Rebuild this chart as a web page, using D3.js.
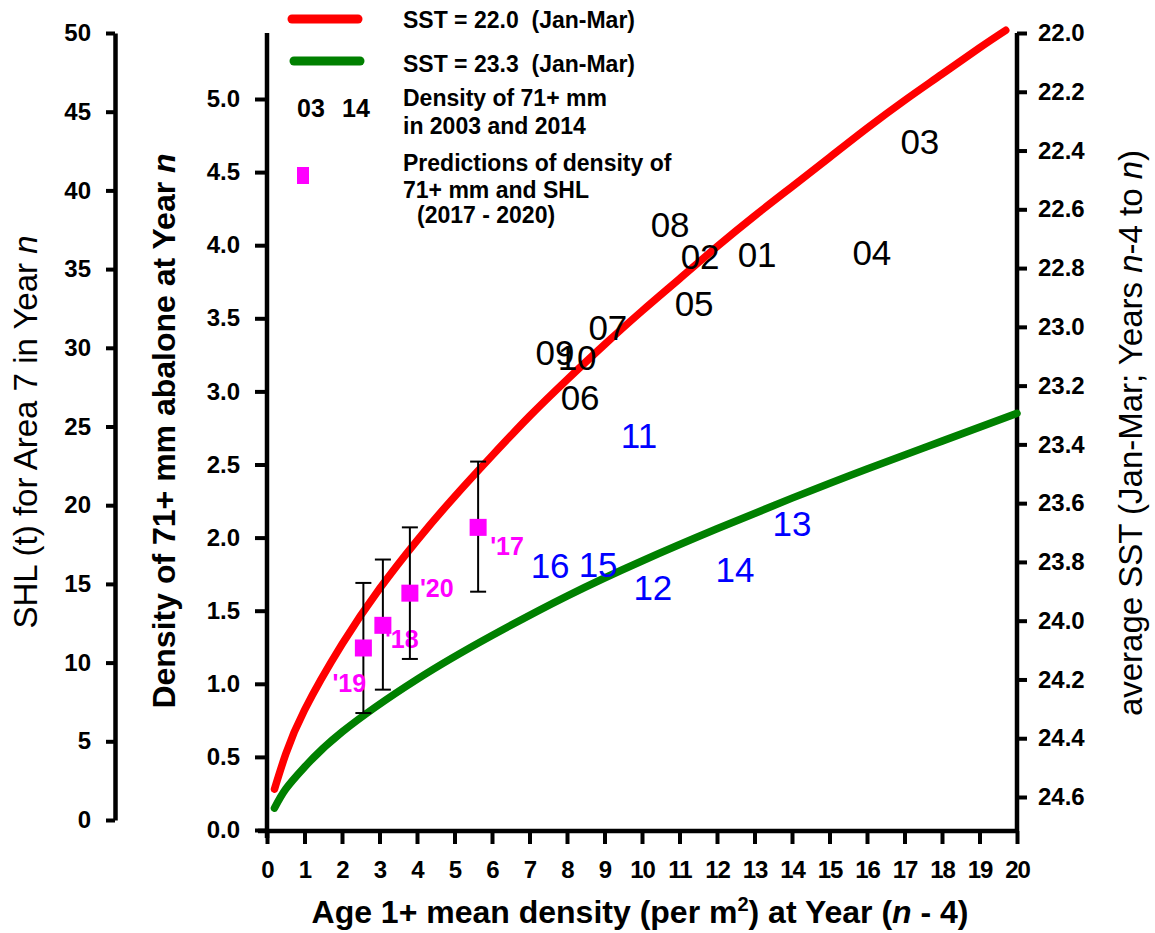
<!DOCTYPE html>
<html>
<head>
<meta charset="utf-8">
<script src="https://cdn.jsdelivr.net/npm/d3@7"></script>
<style>
  body { margin: 0; background: #fff; }
  svg text { font-family: "Liberation Sans", Arial, sans-serif; white-space: pre; }
</style>
</head>
<body>
<svg id="chart" width="1155" height="933"></svg>
<script>
// fitted curves (x = age 1+ density, y = density of 71+ mm)
const curveX = [0.2, 0.5, 1, 2, 3, 4, 5, 6, 7, 8, 9, 10, 11, 12, 13, 14, 15, 16, 17, 18, 19, 19.7];
const redY = [0.28, 0.52, 0.82, 1.27, 1.65, 1.98, 2.28, 2.56, 2.83, 3.08, 3.32, 3.55, 3.77, 3.99, 4.20, 4.40, 4.60, 4.80, 4.99, 5.17, 5.35, 5.47];
const greenX = [0.2, 0.5, 1, 2, 4, 6, 8, 10, 12, 14, 16, 18, 20];
const greenY = [0.15, 0.28, 0.43, 0.67, 1.03, 1.33, 1.60, 1.84, 2.06, 2.27, 2.47, 2.66, 2.85];

// observed years (label placed at its value)
const yearLabels = ["01", "02", "03", "04", "05", "06", "07", "08", "09", "10", "11", "12", "13", "14", "15", "16"];
const yearX = [13.07, 11.55, 17.41, 16.13, 11.39, 8.35, 9.09, 10.75, 7.68, 8.27, 9.92, 10.29, 14.0, 12.48, 8.83, 7.55];
const yearY = [3.94, 3.92, 4.71, 3.95, 3.60, 2.96, 3.44, 4.14, 3.27, 3.23, 2.70, 1.66, 2.10, 1.78, 1.82, 1.81];

// predictions 2017-2020 with error bars
const predLabels = ["'17", "'18", "'19", "'20"];
const predX = [5.63, 3.09, 2.57, 3.81];
const predY = [2.07, 1.40, 1.245, 1.62];
const predLo = [1.63, 0.96, 0.80, 1.17];
const predHi = [2.52, 1.85, 1.69, 2.07];

// tick values
const xTicks = d3.range(0, 21, 1);
const densTicks = [0, 0.5, 1, 1.5, 2, 2.5, 3, 3.5, 4, 4.5, 5];
const shlTicks = [0, 5, 10, 15, 20, 25, 30, 35, 40, 45, 50];
const sstTicks = [22.0, 22.2, 22.4, 22.6, 22.8, 23.0, 23.2, 23.4, 23.6, 23.8, 24.0, 24.2, 24.4, 24.6];

const svg = d3.select("#chart");

// scales
const x = d3.scaleLinear().domain([0, 20]).range([267, 1017]);
const y = d3.scaleLinear().domain([0, 5]).range([830, 99]);
const yShl = d3.scaleLinear().domain([0, 50]).range([820, 33]);
const ySst = d3.scaleLinear().domain([22.0, 24.6]).range([33, 797]);

function styleAxis(g, fs) {
  g.select(".domain").attr("stroke", "#000").attr("stroke-width", 4.5);
  g.selectAll(".tick line").attr("stroke", "#000").attr("stroke-width", 4);
  g.selectAll(".tick text").attr("fill", "#000").attr("font-size", fs).attr("font-weight", "bold")
    .attr("font-family", "Liberation Sans, Arial, sans-serif");
}

// left SHL axis
svg.append("g")
  .attr("transform", "translate(115,0)")
  .call(d3.axisLeft(yShl).tickValues(shlTicks).tickSize(9).tickPadding(15).tickSizeOuter(0))
  .call(g => styleAxis(g, 24));

// density axis
const gy = svg.append("g")
  .attr("transform", "translate(267,0)")
  .call(d3.axisLeft(y).tickValues(densTicks).tickSize(12).tickPadding(15).tickFormat(d3.format(".1f")).tickSizeOuter(0))
  .call(g => styleAxis(g, 24));
gy.select(".domain").attr("d", "M0,33V838");

// right SST axis
const gr = svg.append("g")
  .attr("transform", "translate(1017,0)")
  .call(d3.axisRight(ySst).tickValues(sstTicks).tickSize(10).tickPadding(11).tickFormat(d3.format(".1f")).tickSizeOuter(0))
  .call(g => styleAxis(g, 24));
gr.select(".domain").attr("d", "M0,33V831");

// bottom axis
const gx = svg.append("g")
  .attr("transform", "translate(0,831)")
  .call(d3.axisBottom(x).tickValues(xTicks).tickSize(13).tickPadding(17).tickSizeOuter(0))
  .call(g => styleAxis(g, 24));
gx.select(".domain").attr("d", "M258,0H1019");
gx.selectAll(".tick text").attr("letter-spacing", "-1");

// axis titles
svg.append("text")
  .attr("transform", "translate(37,432) rotate(-90)")
  .attr("text-anchor", "middle").attr("font-size", 33)
  .html('SHL (t) for Area 7 in Year <tspan font-style="italic">n</tspan>');

svg.append("text")
  .attr("transform", "translate(175,431) rotate(-90)")
  .attr("text-anchor", "middle").attr("font-size", 32).attr("font-weight", "bold")
  .html('Density of 71+ mm abalone at Year <tspan font-style="italic">n</tspan>');

svg.append("text")
  .attr("transform", "translate(1142,433) rotate(-90)")
  .attr("text-anchor", "middle").attr("font-size", 33)
  .html('average SST (Jan-Mar; Years <tspan font-style="italic">n</tspan>-4 to <tspan font-style="italic">n</tspan>)');

svg.append("text")
  .attr("x", 640).attr("y", 923)
  .attr("text-anchor", "middle").attr("font-size", 32).attr("font-weight", "bold")
  .html('Age 1+ mean density (per m<tspan dy="-12" font-size="20">2</tspan><tspan dy="12">) at Year (</tspan><tspan font-style="italic">n</tspan> - 4)');

// curves
const line = d3.line()
  .x(d => x(d[0])).y(d => y(d[1]))
  .curve(d3.curveNatural);

svg.append("path")
  .datum(curveX.map((v, i) => [v, redY[i]]))
  .attr("d", line).attr("fill", "none")
  .attr("stroke", "#ff0000").attr("stroke-width", 7.5).attr("stroke-linecap", "round");

svg.append("path")
  .datum(greenX.map((v, i) => [v, greenY[i]]))
  .attr("d", line).attr("fill", "none")
  .attr("stroke", "#008000").attr("stroke-width", 7.5).attr("stroke-linecap", "round");

// year labels
svg.append("g").selectAll("text")
  .data(yearLabels)
  .join("text")
  .attr("x", (d, i) => x(yearX[i]))
  .attr("y", (d, i) => y(yearY[i]))
  .attr("dy", "0.36em")
  .attr("text-anchor", "middle")
  .attr("font-size", 35)
  .attr("fill", d => +d > 10 ? "#0000ff" : "#000")
  .text(d => d);

// error bars + squares
const pred = predLabels.map((lab, i) => ({ lab, x: predX[i], y: predY[i], lo: predLo[i], hi: predHi[i] }));
const eb = svg.append("g").selectAll("g").data(pred).join("g");
eb.append("line")
  .attr("x1", d => x(d.x)).attr("x2", d => x(d.x))
  .attr("y1", d => y(d.lo)).attr("y2", d => y(d.hi))
  .attr("stroke", "#000").attr("stroke-width", 2);
eb.append("line")
  .attr("x1", d => x(d.x) - 8).attr("x2", d => x(d.x) + 8)
  .attr("y1", d => y(d.hi)).attr("y2", d => y(d.hi))
  .attr("stroke", "#000").attr("stroke-width", 2);
eb.append("line")
  .attr("x1", d => x(d.x) - 8).attr("x2", d => x(d.x) + 8)
  .attr("y1", d => y(d.lo)).attr("y2", d => y(d.lo))
  .attr("stroke", "#000").attr("stroke-width", 2);
eb.append("rect")
  .attr("x", d => x(d.x) - 8.5).attr("y", d => y(d.y) - 8.5)
  .attr("width", 17).attr("height", 17)
  .attr("fill", "#ff00ff");

// prediction label offsets (px from point)
const predDx = [12, 2, -31, 10];
const predDy = [28, 23, 44, 4];
eb.append("text")
  .attr("x", (d, i) => x(d.x) + predDx[i])
  .attr("y", (d, i) => y(d.y) + predDy[i])
  .attr("font-size", 25).attr("font-weight", "bold")
  .attr("fill", "#ff00ff")
  .text(d => d.lab);

// legend
const lg = svg.append("g").attr("font-size", 23).attr("font-weight", "bold").attr("fill", "#000");
lg.append("line").attr("x1", 292).attr("x2", 358).attr("y1", 19).attr("y2", 19)
  .attr("stroke", "#ff0000").attr("stroke-width", 9).attr("stroke-linecap", "round");
lg.append("line").attr("x1", 294).attr("x2", 360).attr("y1", 61).attr("y2", 61)
  .attr("stroke", "#008000").attr("stroke-width", 9).attr("stroke-linecap", "round");
lg.append("text").attr("x", 403).attr("y", 28).text("SST = 22.0  (Jan-Mar)");
lg.append("text").attr("x", 403).attr("y", 72).text("SST = 23.3  (Jan-Mar)");
lg.append("text").attr("x", 297).attr("y", 117).attr("font-size", 25).text("03");
lg.append("text").attr("x", 342).attr("y", 117).attr("font-size", 25).text("14");
lg.append("text").attr("x", 403).attr("y", 106).text("Density of 71+ mm");
lg.append("text").attr("x", 403).attr("y", 134).text("in 2003 and 2014");
lg.append("rect").attr("x", 297).attr("y", 167).attr("width", 12).attr("height", 17).attr("fill", "#ff00ff");
lg.append("text").attr("x", 403).attr("y", 171).text("Predictions of density of");
lg.append("text").attr("x", 403).attr("y", 198).text("71+ mm and SHL");
lg.append("text").attr("x", 417).attr("y", 223).text("(2017 - 2020)");
</script>
</body>
</html>
